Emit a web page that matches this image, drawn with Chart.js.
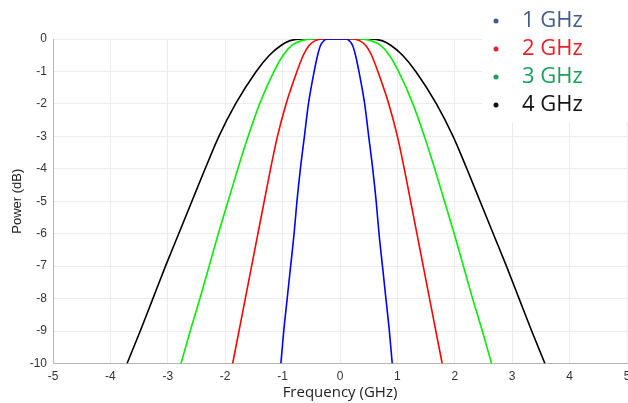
<!DOCTYPE html>
<html lang="en">
<head>
    <meta charset="UTF-8">
    <title>Power vs Frequency</title>
    <script src="https://cdn.jsdelivr.net/npm/chart.js"></script>
    <style>
        html, body { margin: 0; padding: 0; background: #fff; }
        #wrap { width: 628px; height: 403px; position: relative; }
    </style>
</head>
<body>
<div id="wrap"><canvas id="potenciaChart"></canvas></div>
<script>
    // niveis de potencia (dB), do fundo ate o topo
    const niveis = [-10, -9, -8, -7, -6, -5, -4, -3, -2, -1, -0.5, -0.2, -0.05, 0];

    // frequencia (GHz) em cada nivel, lado esquerdo e direito
    const esq1GHz = [-1.03, -0.98, -0.92, -0.86, -0.80, -0.75, -0.69, -0.62, -0.55, -0.45, -0.39, -0.34, -0.28, -0.22];
    const dir1GHz = [0.91, 0.86, 0.80, 0.74, 0.68, 0.63, 0.57, 0.50, 0.43, 0.33, 0.27, 0.22, 0.16, 0.10];
    const esq2GHz = [-1.87, -1.76, -1.65, -1.54, -1.43, -1.32, -1.21, -1.09, -0.94, -0.75, -0.64, -0.54, -0.43, -0.31];
    const dir2GHz = [1.78, 1.67, 1.56, 1.45, 1.34, 1.23, 1.12, 1.00, 0.85, 0.66, 0.55, 0.45, 0.34, 0.22];
    const esq3GHz = [-2.77, -2.61, -2.44, -2.28, -2.12, -1.95, -1.78, -1.60, -1.40, -1.15, -0.99, -0.84, -0.67, -0.47];
    const dir3GHz = [2.64, 2.48, 2.31, 2.15, 1.99, 1.82, 1.65, 1.47, 1.27, 1.02, 0.86, 0.71, 0.54, 0.34];
    const esq4GHz = [-3.71, -3.48, -3.26, -3.04, -2.81, -2.58, -2.35, -2.11, -1.82, -1.46, -1.23, -1.03, -0.87, -0.65];
    const dir4GHz = [3.57, 3.34, 3.12, 2.90, 2.67, 2.44, 2.21, 1.97, 1.68, 1.32, 1.09, 0.89, 0.73, 0.51];

    const rotulos = ['1 GHz', '2 GHz', '3 GHz', '4 GHz'];
    const coresLinha = ['#0000ff', '#ff0000', '#00ee00', '#000000'];
    const coresLegenda = ['#3f5d8d', '#e8202a', '#1a9e5a', '#111111'];

    const xTicks = [-5, -4, -3, -2, -1, 0, 1, 2, 3, 4, 5];
    const yTicks = [0, -1, -2, -3, -4, -5, -6, -7, -8, -9, -10];

    // monta a curva em ordem crescente de x: lado esquerdo, topo, lado direito
    function montarCurva(esq, dir) {
        const pontos = esq.map((f, i) => ({ x: f, y: niveis[i] }));
        for (let i = dir.length - 1; i >= 0; i--) {
            pontos.push({ x: dir[i], y: niveis[i] });
        }
        return pontos;
    }

    const curvas = [
        montarCurva(esq1GHz, dir1GHz),
        montarCurva(esq2GHz, dir2GHz),
        montarCurva(esq3GHz, dir3GHz),
        montarCurva(esq4GHz, dir4GHz)
    ];

    // legenda desenhada por cima, como no original
    const legendaPlugin = {
        id: 'legendaManual',
        afterDraw(chart) {
            const ctx = chart.ctx;
            ctx.save();
            ctx.fillStyle = '#ffffff';
            ctx.fillRect(482, 0, 146, 122);
            ctx.font = '22px "Open Sans"';
            ctx.textBaseline = 'middle';
            rotulos.forEach((r, i) => {
                const y = 21 + i * 28;
                ctx.fillStyle = coresLegenda[i];
                ctx.beginPath();
                ctx.arc(496, y, 2.5, 0, Math.PI * 2);
                ctx.fill();
                ctx.fillText(r, 522, y);
            });
            ctx.restore();
        }
    };

    const ctx = document.getElementById('potenciaChart').getContext('2d');
    new Chart(ctx, {
        type: 'scatter',
        data: {
            datasets: curvas.map((c, i) => ({
                label: rotulos[i],
                data: c,
                showLine: true,
                borderColor: coresLinha[i],
                borderWidth: 1.6,
                pointRadius: 0,
                cubicInterpolationMode: 'monotone',
                fill: false
            }))
        },
        options: {
            responsive: true,
            maintainAspectRatio: false,
            animation: false,
            layout: { padding: { top: 39, right: 1, left: 0, bottom: 0 } },
            plugins: {
                legend: { display: false },
                tooltip: { enabled: false }
            },
            scales: {
                x: {
                    type: 'linear',
                    min: -5,
                    max: 5,
                    afterBuildTicks: s => { s.ticks = xTicks.map(v => ({ value: v })); },
                    afterFit: s => { s.height = 39.5; s.paddingLeft = 0; s.paddingRight = 0; },
                    grid: { color: '#ececec', drawTicks: false },
                    border: { color: '#b5b5b5', width: 1 },
                    ticks: {
                        padding: 6,
                        color: '#333',
                        font: { family: '"Liberation Sans"', size: 12 },
                        maxRotation: 0
                    },
                    title: {
                        display: true,
                        text: 'Frequency (GHz)',
                        color: '#222',
                        font: { family: '"Open Sans"', size: 15 },
                        padding: { top: 0, bottom: 1 }
                    }
                },
                y: {
                    min: -10,
                    max: 0,
                    afterBuildTicks: s => { s.ticks = yTicks.map(v => ({ value: v })); },
                    afterFit: s => { s.width = 53; s.paddingTop = 0; s.paddingBottom = 0; },
                    grid: { color: '#ececec', drawTicks: false },
                    border: { color: '#b5b5b5', width: 1 },
                    ticks: {
                        padding: 6,
                        color: '#333',
                        font: { family: '"Liberation Sans"', size: 12 }
                    },
                    title: {
                        display: true,
                        text: 'Power (dB)',
                        color: '#222',
                        font: { family: '"Liberation Sans"', size: 13 },
                        padding: { top: 10, bottom: 0 }
                    }
                }
            }
        },
        plugins: [legendaPlugin]
    });
</script>
</body>
</html>
